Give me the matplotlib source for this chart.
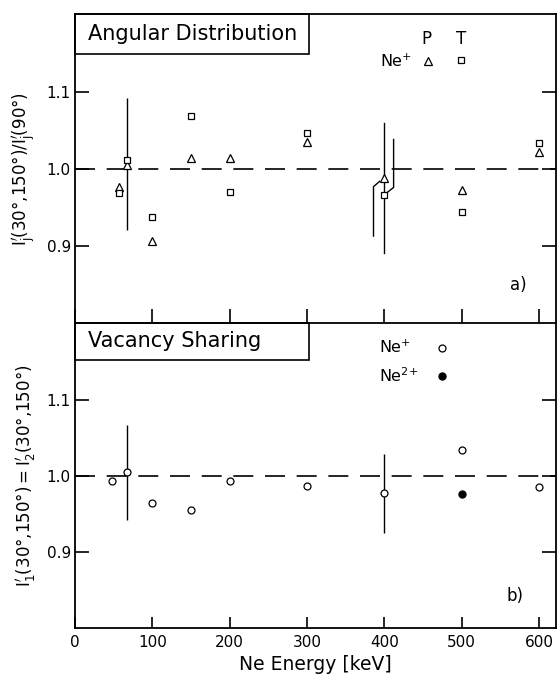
import matplotlib
matplotlib.use("Agg")
import matplotlib.pyplot as plt
import numpy as np

plt.rcParams['font.family'] = ['DejaVu Sans']
plt.rcParams['mathtext.fontset'] = 'dejavusans'

# ---- data: panel a (angular distribution) ----
energy_a = [57, 67, 100, 150, 200, 300, 400, 500, 600]
P_vals = [0.977, 1.005, 0.907, 1.0145, 1.0137, 1.035, 0.988, 0.973, 1.022]
T_vals = [0.969, 1.012, 0.9376, 1.068, 0.9705, 1.046, 0.966, 0.944, 1.033]
# simple error bar at 67 keV
errbar_a_x = [67]
errbar_a_lo = [0.921]
errbar_a_hi = [1.092]
# broken/offset error bars at 400 keV
main400_x = [400, 400]
main400_y = [0.891, 1.059]
right400_x = [412, 412, 403]
right400_y = [1.038, 0.976, 0.969]
left400_x = [386, 386, 394]
left400_y = [0.913, 0.977, 0.984]

# ---- data: panel b (vacancy sharing) ----
energy_b = [48, 67, 100, 150, 200, 300, 400, 500, 600]
ne1_vals = [0.993, 1.005, 0.964, 0.955, 0.993, 0.986, 0.977, 1.033, 0.985]
ne2_energy = [500]
ne2_vals = [0.976]
errbar_b_x = [67, 400]
errbar_b_lo = [0.9416, 0.925]
errbar_b_hi = [1.066, 1.029]

xticks = [0, 100, 200, 300, 400, 500, 600]
yticks = [0.9, 1.0, 1.1]
ytick_labels = ['0.9', '1.0', '1.1']

fig = plt.figure(figsize=(5.6, 6.79), dpi=100)
axL = 75 / 560
axW = 481 / 560
ax1 = fig.add_axes([axL, 0.5236, axW, 0.4553])
ax2 = fig.add_axes([axL, 0.0756, axW, 0.4480])

for ax in (ax1, ax2):
    ax.set_xlim(0, 622)
    ax.set_ylim(0.8, 1.2)
    ax.set_yticks(yticks)
    ax.set_yticklabels(ytick_labels)
    ax.set_xticks(xticks)
    for s in ax.spines.values():
        s.set_linewidth(1.3)
    ax.tick_params(axis='y', which='both', direction='in', length=10, width=1.2,
                   right=True, labelsize=11, pad=3)
    ax.tick_params(axis='x', direction='in', length=8, width=1.2, labelsize=11, pad=5)
    ax.axhline(1.0, color='black', lw=1.2, dashes=(12, 7), zorder=1)

ax1.tick_params(axis='x', labelbottom=False, length=10)
ax1.spines['bottom'].set_visible(False)

mk = dict(mfc='white', mec='black', mew=0.9, ls='none', zorder=3)

# panel a
ax1.vlines(errbar_a_x, errbar_a_lo, errbar_a_hi, color='black', lw=1.0, zorder=2)
ax1.plot(main400_x, main400_y, color='black', lw=1.0, zorder=2)
ax1.plot(right400_x, right400_y, color='black', lw=1.0, zorder=2)
ax1.plot(left400_x, left400_y, color='black', lw=1.0, zorder=2)
ax1.plot(energy_a, P_vals, marker='^', ms=5.5, **mk)
ax1.plot(energy_a, T_vals, marker='s', ms=4.2, **mk)

ax1.text(455, 1.168, 'P', fontsize=12, ha='center', va='center')
ax1.text(499, 1.168, 'T', fontsize=12, ha='center', va='center')
ax1.text(436, 1.139, r'Ne$^{+}$', fontsize=11.5, ha='right', va='center')
ax1.plot([456], [1.140], marker='^', ms=5.5, **mk)
ax1.plot([499], [1.141], marker='s', ms=4.2, **mk)
ax1.text(573, 0.85, 'a)', fontsize=12, ha='center', va='center')

ax1.add_patch(plt.Rectangle((0, 0.873), 302 / 622, 0.127, transform=ax1.transAxes,
                            fill=False, lw=1.2, ec='black', clip_on=False, zorder=4))
ax1.text(17, 1.175, 'Angular Distribution', fontsize=15, ha='left', va='center')
ax1.set_ylabel(r"$\mathrm{I}^{\prime}_{\mathrm{j}}\mathrm{(30°{,}150°)/I}^{\prime}_{\mathrm{j}}\mathrm{(90°)}$",
               fontsize=12, labelpad=6)

# panel b
ax2.vlines(errbar_b_x, errbar_b_lo, errbar_b_hi, color='black', lw=1.0, zorder=2)
ax2.plot(energy_b, ne1_vals, marker='o', ms=5, **mk)
ax2.plot(ne2_energy, ne2_vals, marker='o', ms=5, mfc='black', mec='black', ls='none',
         zorder=3)
ax2.text(393, 1.168, r'Ne$^{+}$', fontsize=11.5, ha='left', va='center')
ax2.text(393, 1.131, r'Ne$^{2{+}}$', fontsize=11.5, ha='left', va='center')
ax2.plot([474], [1.168], marker='o', ms=5, **mk)
ax2.plot([474], [1.131], marker='o', ms=5, mfc='black', mec='black', ls='none')
ax2.text(569, 0.842, 'b)', fontsize=12, ha='center', va='center')

ax2.add_patch(plt.Rectangle((0, 0.88), 302 / 622, 0.12, transform=ax2.transAxes,
                            fill=False, lw=1.2, ec='black', clip_on=False, zorder=4))
ax2.text(17, 1.177, 'Vacancy Sharing', fontsize=15, ha='left', va='center')
ax2.set_ylabel(r"$\mathrm{I}^{\prime}_{\mathrm{1}}\mathrm{(30°{,}150°)=I}^{\prime}_{\mathrm{2}}\mathrm{(30°{,}150°)}$",
               fontsize=12, labelpad=6)
ax2.set_xlabel('Ne Energy [keV]', fontsize=13.5, labelpad=4)

fig.savefig('out.png', dpi=100)
